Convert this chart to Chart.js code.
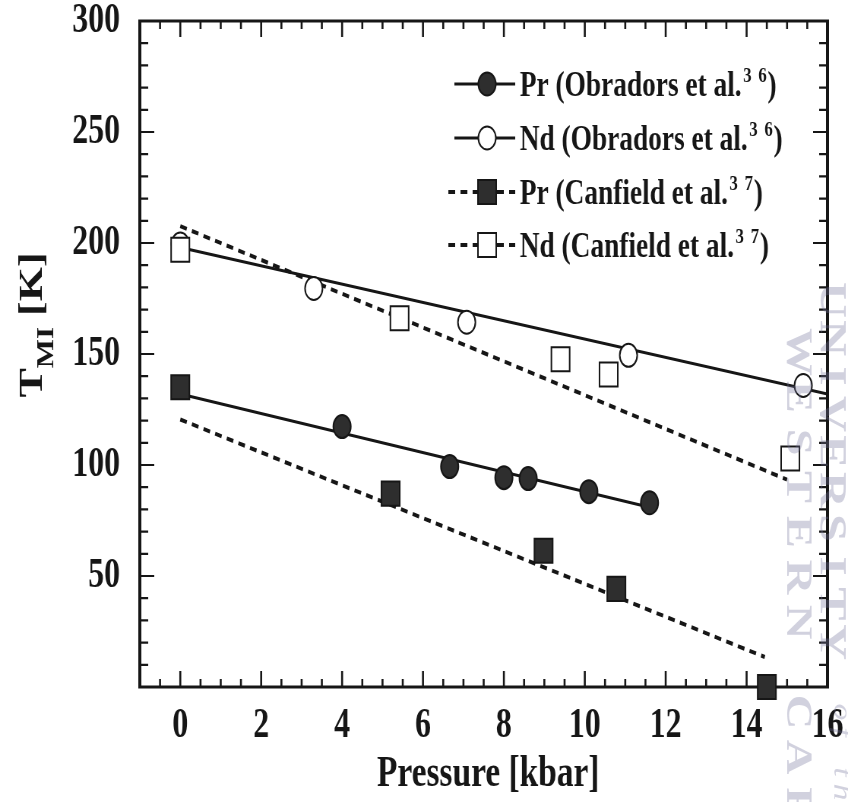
<!DOCTYPE html>
<html>
<head>
<meta charset="utf-8">
<script src="https://cdn.jsdelivr.net/npm/chart.js@4.4.1/dist/chart.umd.min.js"></script>
<style>
html,body{margin:0;padding:0;overflow:hidden;background:#fff;width:848px;height:802px;}
#wrap{position:absolute;left:0;top:0;width:1116px;height:802px;transform:scaleX(0.75986);transform-origin:0 0;}
</style>
</head>
<body>
<div id="wrap"><canvas id="c"></canvas></div>
<script>
// ---- data ----
const xPressureTicks = [0, 2, 4, 6, 8, 10, 12, 14, 16];
const yTempTicks = [50, 100, 150, 200, 250, 300];

const prObradorsP = [4.0, 6.66, 8.0, 8.6, 10.1, 11.6];
const prObradorsT = [117.3, 99.3, 94.3, 93.9, 88.0, 83.0];
const ndObradorsP = [0, 3.3, 7.08, 11.08, 15.4];
const ndObradorsT = [199.5, 179.5, 164.3, 149.4, 135.8];
const prCanfieldP = [0, 5.2, 8.98, 10.78, 14.5];
const prCanfieldT = [135, 87.1, 61.4, 44.2, 0];
const ndCanfieldP = [0, 5.42, 9.4, 10.59, 15.08];
const ndCanfieldT = [197, 166.1, 147.6, 140.8, 102.9];

// linear fits (end points)
const prObradorsFitP = [0, 11.6];
const prObradorsFitT = [132, 81];
const ndObradorsFitP = [0, 16];
const ndObradorsFitT = [198, 132];
const prCanfieldFitP = [0, 14.45];
const prCanfieldFitT = [120.5, 13.5];
const ndCanfieldFitP = [0, 15.0];
const ndCanfieldFitT = [207.6, 93.4];

const legendLabels = [
  ['Pr (Obradors et al.', '3', '6', ')'],
  ['Nd (Obradors et al.', '3', '6', ')'],
  ['Pr (Canfield et al.', '3', '7', ')'],
  ['Nd (Canfield et al.', '3', '7', ')']
];

function pts(xs, ys) { return xs.map((x, i) => ({ x: x, y: ys[i] })); }

const INK = '#161616';
const FILL = '#2e2e2e';
const SERIF = "'Liberation Serif', 'Times New Roman', serif";

function pointSet(label, xs, ys, style, filled, order) {
  return {
    label: label, data: pts(xs, ys), showLine: false, order: order, clip: false,
    pointStyle: style, pointRadius: style === 'rect' ? 17 : 11.5,
    pointHoverRadius: style === 'rect' ? 17 : 11.5,
    pointBorderWidth: 2, pointBorderColor: INK,
    pointBackgroundColor: filled ? FILL : '#ffffff'
  };
}
function fitSet(label, xs, ys, dashed, order) {
  return {
    label: label, data: pts(xs, ys), showLine: true, order: order,
    borderColor: INK, borderWidth: dashed ? 4 : 3, borderDash: dashed ? [9, 7] : [],
    pointRadius: 0, pointHoverRadius: 0, fill: false, tension: 0
  };
}

const legendStyles = [
  { style: 'circle', filled: true, dashed: false },
  { style: 'circle', filled: false, dashed: false },
  { style: 'rect', filled: true, dashed: true },
  { style: 'rect', filled: false, dashed: true }
];

function drawMarker(ctx, style, filled, x, y) {
  ctx.save();
  ctx.lineWidth = 2;
  ctx.strokeStyle = INK;
  ctx.fillStyle = filled ? FILL : '#ffffff';
  ctx.setLineDash([]);
  ctx.beginPath();
  if (style === 'circle') ctx.arc(x, y, 11.5, 0, Math.PI * 2);
  else ctx.rect(x - 12, y - 12, 24, 24);
  ctx.fill();
  ctx.stroke();
  ctx.restore();
}

const framePlugin = {
  id: 'frame',
  beforeDatasetsDraw(chart) {
    const ctx = chart.ctx, a = chart.chartArea;
    const xs = chart.scales.x, ys = chart.scales.y;
    ctx.save();
    ctx.strokeStyle = INK;
    ctx.lineCap = 'butt';
    ctx.lineWidth = 2.6;
    for (let v = xs.min; v <= xs.max + 1e-9; v += 0.5) {
      const px = xs.getPixelForValue(v);
      const major = xPressureTicks.includes(v);
      const len = major ? 16 : 8;
      ctx.beginPath();
      ctx.moveTo(px, a.bottom); ctx.lineTo(px, a.bottom - len);
      ctx.moveTo(px, a.top); ctx.lineTo(px, a.top + len);
      ctx.stroke();
    }
    ctx.lineWidth = 2.2;
    for (let v = ys.min; v <= ys.max + 1e-9; v += 10) {
      const py = ys.getPixelForValue(v);
      const major = (v % 50) === 0;
      const len = major ? 19 : 11;
      ctx.beginPath();
      ctx.moveTo(a.left, py); ctx.lineTo(a.left + len, py);
      ctx.moveTo(a.right, py); ctx.lineTo(a.right - len, py);
      ctx.stroke();
    }
    ctx.lineWidth = 3;
    ctx.beginPath();
    ctx.moveTo(a.left - 2, a.top); ctx.lineTo(a.right + 2, a.top);
    ctx.moveTo(a.left - 2, a.bottom); ctx.lineTo(a.right + 2, a.bottom);
    ctx.stroke();
    ctx.lineWidth = 4;
    ctx.beginPath();
    ctx.moveTo(a.left, a.top); ctx.lineTo(a.left, a.bottom);
    ctx.moveTo(a.right, a.top); ctx.lineTo(a.right, a.bottom);
    ctx.stroke();
    ctx.restore();
  }
};

function vtext(ctx, str, xBase, yStart, adv) {
  for (let i = 0; i < str.length; i++) {
    const ch = str[i];
    if (ch === ' ') continue;
    ctx.save();
    ctx.translate(xBase, yStart + i * adv);
    ctx.rotate(Math.PI / 2);
    ctx.textAlign = 'center';
    ctx.textBaseline = 'alphabetic';
    ctx.fillText(ch, 0, 0);
    ctx.restore();
  }
}

const textPlugin = {
  id: 'texts',
  afterDraw(chart) {
    const ctx = chart.ctx, a = chart.chartArea;
    ctx.save();
    ctx.fillStyle = INK;
    // x title
    ctx.font = 'bold 44px ' + SERIF;
    ctx.textAlign = 'center';
    ctx.textBaseline = 'alphabetic';
    ctx.fillText('Pressure [kbar]', (a.left + a.right) / 2 + 6, 786);

    // y title with subscript
    ctx.save();
    ctx.translate(55, 325);
    ctx.rotate(-Math.PI / 2);
    ctx.textAlign = 'left';
    const fBig = 'bold 44px ' + SERIF, fSub = 'bold 31px ' + SERIF;
    ctx.font = fBig; const wT = ctx.measureText('T').width;
    const wK = ctx.measureText(' [K]').width;
    ctx.font = fSub; const wMI = ctx.measureText('MI').width;
    let x0 = -(wT + wMI + wK) / 2;
    ctx.font = fBig; ctx.fillText('T', x0, 0);
    ctx.font = fSub; ctx.fillText('MI', x0 + wT, 15);
    ctx.font = fBig; ctx.fillText(' [K]', x0 + wT + wMI, 0);
    ctx.restore();

    // legend
    const rows = [84, 138, 192, 245];
    rows.forEach((ry, i) => {
      const st = legendStyles[i];
      ctx.save();
      ctx.strokeStyle = INK;
      ctx.lineWidth = st.dashed ? 4 : 3;
      ctx.setLineDash(st.dashed ? [9, 7] : []);
      ctx.beginPath();
      ctx.moveTo(st.dashed ? 590 : 598, ry); ctx.lineTo(678, ry);
      ctx.stroke();
      ctx.restore();
      drawMarker(ctx, st.style, st.filled, 641, ry);
      const lab = legendLabels[i];
      ctx.textAlign = 'left';
      ctx.font = 'bold 36px ' + SERIF;
      let tx = 684;
      ctx.fillText(lab[0], tx, ry + 12);
      tx += ctx.measureText(lab[0]).width + 2;
      ctx.font = 'bold 22px ' + SERIF;
      ctx.fillText(lab[1], tx, ry - 2);
      tx += ctx.measureText(lab[1]).width + 9;
      ctx.fillText(lab[2], tx, ry - 2);
      tx += ctx.measureText(lab[2]).width + 1;
      ctx.font = 'bold 36px ' + SERIF;
      ctx.fillText(lab[3], tx, ry + 12);
    });

    // faint scan watermark
    ctx.fillStyle = 'rgba(115,115,155,0.33)';
    ctx.font = 'bold 50px ' + SERIF;
    vtext(ctx, 'UNIVERSITY', 1080, 300, 38);
    ctx.font = 'italic 34px ' + SERIF;
    vtext(ctx, 'of the', 1098, 712, 20);
    ctx.font = 'bold 48px ' + SERIF;
    vtext(ctx, 'WESTERN CAPE', 1036, 352, 45);
    ctx.restore();
  }
};

const tickFont = { family: SERIF, size: 42, weight: 'bold', lineHeight: 1 };

new Chart(document.getElementById('c'), {
  type: 'scatter',
  data: {
    datasets: [
      pointSet('Nd (Canfield et al.)', ndCanfieldP, ndCanfieldT, 'rect', false, 0),
      pointSet('Pr (Canfield et al.)', prCanfieldP, prCanfieldT, 'rect', true, 0),
      pointSet('Nd (Obradors et al.)', ndObradorsP, ndObradorsT, 'circle', false, 1),
      pointSet('Pr (Obradors et al.)', prObradorsP, prObradorsT, 'circle', true, 1),
      fitSet('Pr Obradors fit', prObradorsFitP, prObradorsFitT, false, 3),
      fitSet('Nd Obradors fit', ndObradorsFitP, ndObradorsFitT, false, 3),
      fitSet('Pr Canfield fit', prCanfieldFitP, prCanfieldFitT, true, 3),
      fitSet('Nd Canfield fit', ndCanfieldFitP, ndCanfieldFitT, true, 3)
    ]
  },
  options: {
    responsive: true,
    maintainAspectRatio: false,
    animation: false,
    events: [],
    layout: { padding: { top: 21, right: 27, left: 0, bottom: 0 } },
    plugins: { legend: { display: false }, tooltip: { enabled: false } },
    scales: {
      x: {
        type: 'linear', min: -1, max: 16,
        grid: { display: false }, border: { display: false },
        afterBuildTicks: s => { s.ticks = xPressureTicks.map(v => ({ value: v })); },
        afterFit: s => { s.height = 115; s.paddingLeft = 0; s.paddingRight = 0; },
        ticks: { font: tickFont, color: INK, padding: 10, maxRotation: 0, autoSkip: false,
                 callback: v => String(v) }
      },
      y: {
        type: 'linear', min: 0, max: 300,
        grid: { display: false }, border: { display: false },
        afterBuildTicks: s => { s.ticks = yTempTicks.map(v => ({ value: v })); },
        afterFit: s => { s.width = 184; s.paddingTop = 0; s.paddingBottom = 0; },
        ticks: { font: tickFont, color: INK, padding: 18, autoSkip: false,
                 callback: v => String(v) }
      }
    }
  },
  plugins: [framePlugin, textPlugin]
});
</script>
</body>
</html>
